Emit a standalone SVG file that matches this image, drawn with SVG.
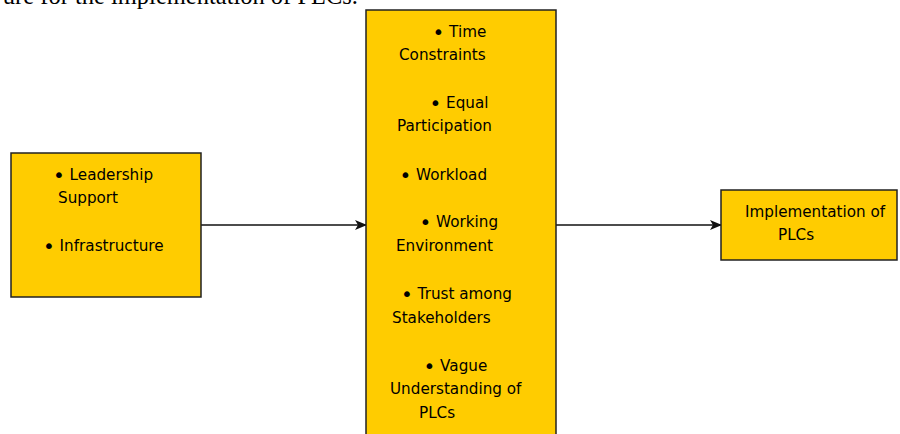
<svg xmlns="http://www.w3.org/2000/svg" width="900" height="434" viewBox="0 0 900 434">
<defs>
<style>
.box{fill:#FFCC00;stroke:#222;stroke-width:1.5}
.t{font-family:"DejaVu Sans",Verdana,sans-serif;font-size:15.2px;fill:#000}
.b{font-size:20px}
.conn{stroke:#111;stroke-width:1.5;fill:none}
.cap{font-family:"Liberation Serif","Times New Roman",serif;font-size:24.5px;fill:#000}
</style>
<marker id="arr" viewBox="0 0 12 10" refX="11" refY="5" markerWidth="12" markerHeight="10" markerUnits="userSpaceOnUse" orient="auto">
<path d="M0,0 L12,5 L0,10 L3,5 Z" fill="#111"/>
</marker>
</defs>
<rect width="900" height="434" fill="#fff"/>
<text class="cap" x="358" y="4" text-anchor="end">ure for the implementation of PLCs.</text>
<g id="connectors">
<line class="conn" x1="201" y1="225" x2="366" y2="225" marker-end="url(#arr)"/>
<line class="conn" x1="556" y1="225" x2="721" y2="225" marker-end="url(#arr)"/>
</g>
<g id="factors">
<rect class="box" x="11" y="153" width="190" height="144"/>
<text class="t" x="53" y="180"><tspan class="b" dy="1.5">•</tspan><tspan dy="-1.5"> Leadership</tspan></text>
<text class="t" x="58" y="203">Support</text>
<text class="t" x="43" y="251"><tspan class="b" dy="1.5">•</tspan><tspan dy="-1.5"> Infrastructure</tspan></text>
</g>
<g id="challenges">
<rect class="box" x="366" y="10" width="190" height="430"/>
<text class="t" x="432.5" y="37"><tspan class="b" dy="1.5">•</tspan><tspan dy="-1.5"> Time</tspan></text>
<text class="t" x="399" y="60">Constraints</text>
<text class="t" x="429.5" y="108"><tspan class="b" dy="1.5">•</tspan><tspan dy="-1.5"> Equal</tspan></text>
<text class="t" x="397" y="131">Participation</text>
<text class="t" x="399.5" y="180"><tspan class="b" dy="1.5">•</tspan><tspan dy="-1.5"> Workload</tspan></text>
<text class="t" x="419.5" y="227"><tspan class="b" dy="1.5">•</tspan><tspan dy="-1.5"> Working</tspan></text>
<text class="t" x="396" y="251">Environment</text>
<text class="t" x="401" y="299"><tspan class="b" dy="1.5">•</tspan><tspan dy="-1.5"> Trust among</tspan></text>
<text class="t" x="392" y="323">Stakeholders</text>
<text class="t" x="423.5" y="371"><tspan class="b" dy="1.5">•</tspan><tspan dy="-1.5"> Vague</tspan></text>
<text class="t" x="390" y="394">Understanding of</text>
<text class="t" x="419" y="418">PLCs</text>
</g>
<g id="outcome">
<rect class="box" x="721" y="190" width="176" height="70"/>
<text class="t" x="745" y="217">Implementation of</text>
<text class="t" x="778" y="240">PLCs</text>
</g>
</svg>
